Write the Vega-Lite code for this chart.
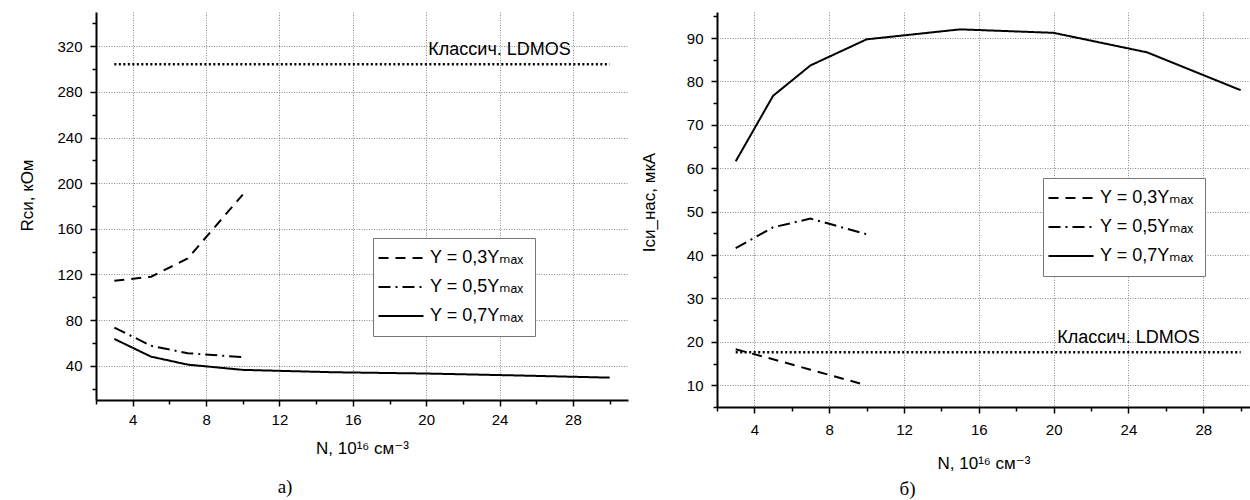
{
  "$schema": "https://vega.github.io/schema/vega-lite/v6.json",
  "padding": {"left": 18, "top": 9, "right": 0, "bottom": 0},
  "bounds": "flush",
  "spacing": 89,
  "datasets": {
    "left": [
      {"kind": "ldmos", "N": 3, "V": 304.3},
      {"kind": "ldmos", "N": 30, "V": 304.3},
      {"kind": "label", "N": 24, "V": 316.5, "label": "Классич. LDMOS"},
      {"kind": "curve", "series": "Y = 0,3Yₘₐₓ", "N": 3, "V": 114.5},
      {"kind": "curve", "series": "Y = 0,3Yₘₐₓ", "N": 5, "V": 118},
      {"kind": "curve", "series": "Y = 0,3Yₘₐₓ", "N": 7, "V": 134},
      {"kind": "curve", "series": "Y = 0,3Yₘₐₓ", "N": 10, "V": 190},
      {"kind": "curve", "series": "Y = 0,5Yₘₐₓ", "N": 3, "V": 73.5},
      {"kind": "curve", "series": "Y = 0,5Yₘₐₓ", "N": 5, "V": 57.5},
      {"kind": "curve", "series": "Y = 0,5Yₘₐₓ", "N": 7, "V": 51},
      {"kind": "curve", "series": "Y = 0,5Yₘₐₓ", "N": 10, "V": 47.5},
      {"kind": "curve", "series": "Y = 0,7Yₘₐₓ", "N": 3, "V": 63.5},
      {"kind": "curve", "series": "Y = 0,7Yₘₐₓ", "N": 5, "V": 48},
      {"kind": "curve", "series": "Y = 0,7Yₘₐₓ", "N": 7, "V": 41},
      {"kind": "curve", "series": "Y = 0,7Yₘₐₓ", "N": 10, "V": 36.4},
      {"kind": "curve", "series": "Y = 0,7Yₘₐₓ", "N": 15, "V": 34.3},
      {"kind": "curve", "series": "Y = 0,7Yₘₐₓ", "N": 20, "V": 33.2},
      {"kind": "curve", "series": "Y = 0,7Yₘₐₓ", "N": 25, "V": 31.5},
      {"kind": "curve", "series": "Y = 0,7Yₘₐₓ", "N": 30, "V": 29.6}
    ],
    "right": [
      {"kind": "ldmos", "N": 3, "V": 17.6},
      {"kind": "ldmos", "N": 30, "V": 17.6},
      {"kind": "label", "N": 24, "V": 20.9, "label": "Классич. LDMOS"},
      {"kind": "curve", "series": "Y = 0,3Yₘₐₓ", "N": 3, "V": 18.3},
      {"kind": "curve", "series": "Y = 0,3Yₘₐₓ", "N": 5, "V": 16},
      {"kind": "curve", "series": "Y = 0,3Yₘₐₓ", "N": 7, "V": 13.6},
      {"kind": "curve", "series": "Y = 0,3Yₘₐₓ", "N": 10, "V": 10},
      {"kind": "curve", "series": "Y = 0,5Yₘₐₓ", "N": 3, "V": 41.6},
      {"kind": "curve", "series": "Y = 0,5Yₘₐₓ", "N": 5, "V": 46.4},
      {"kind": "curve", "series": "Y = 0,5Yₘₐₓ", "N": 7, "V": 48.4},
      {"kind": "curve", "series": "Y = 0,5Yₘₐₓ", "N": 10, "V": 44.8},
      {"kind": "curve", "series": "Y = 0,7Yₘₐₓ", "N": 3, "V": 61.6},
      {"kind": "curve", "series": "Y = 0,7Yₘₐₓ", "N": 5, "V": 76.7},
      {"kind": "curve", "series": "Y = 0,7Yₘₐₓ", "N": 7, "V": 83.7},
      {"kind": "curve", "series": "Y = 0,7Yₘₐₓ", "N": 10, "V": 89.7},
      {"kind": "curve", "series": "Y = 0,7Yₘₐₓ", "N": 15, "V": 92},
      {"kind": "curve", "series": "Y = 0,7Yₘₐₓ", "N": 20, "V": 91.2},
      {"kind": "curve", "series": "Y = 0,7Yₘₐₓ", "N": 25, "V": 86.7},
      {"kind": "curve", "series": "Y = 0,7Yₘₐₓ", "N": 30, "V": 78}
    ]
  },
  "hconcat": [
    {
      "width": 532,
      "height": 388,
      "data": {"name": "left"},
      "title": {"text": "а)", "orient": "bottom", "anchor": "middle", "dx": -77, "offset": 22, "font": "Liberation Serif", "fontSize": 19, "fontWeight": "normal", "color": "black"},
      "encoding": {
        "x": {
          "field": "N", "type": "quantitative",
          "scale": {"domain": [2, 31], "nice": false, "zero": false},
          "axis": {
            "title": "N, 10¹⁶ см⁻³",
            "values": [2, 4, 6, 8, 10, 12, 14, 16, 18, 20, 22, 24, 26, 28, 30],
            "labelExpr": "datum.value % 4 === 0 ? datum.label : ''",
            "tickSize": {"condition": {"test": "datum.value % 4 === 0", "value": 6}, "value": 4},
            "gridOpacity": {"condition": {"test": "datum.value % 4 === 0", "value": 1}, "value": 0},
            "labelPadding": 6, "titlePadding": 13, "labelFlush": false, "labelOverlap": false
          }
        },
        "y": {
          "field": "V", "type": "quantitative",
          "scale": {"domain": [10, 350], "nice": false, "zero": false},
          "axis": {
            "title": "Rси, кОм",
            "titleY": 183,
            "values": [20, 40, 60, 80, 100, 120, 140, 160, 180, 200, 220, 240, 260, 280, 300, 320, 340],
            "labelExpr": "datum.value % 40 === 0 ? datum.label : ''",
            "tickSize": {"condition": {"test": "datum.value % 40 === 0", "value": 6}, "value": 4},
            "gridOpacity": {"condition": {"test": "datum.value % 40 === 0", "value": 1}, "value": 0},
            "labelPadding": 8, "titlePadding": 20, "labelOverlap": false
          }
        }
      },
      "layer": [
        {
          "transform": [{"filter": "datum.kind === 'ldmos'"}],
          "mark": {"type": "line", "color": "black", "strokeWidth": 2.5, "strokeDash": [2, 2.5]}
        },
        {
          "transform": [{"filter": "datum.kind === 'curve'"}],
          "mark": {"type": "line", "color": "black", "strokeWidth": 2},
          "encoding": {
            "strokeDash": {
              "field": "series", "type": "nominal",
              "scale": {"domain": ["Y = 0,3Yₘₐₓ", "Y = 0,5Yₘₐₓ", "Y = 0,7Yₘₐₓ"], "range": [[10, 7], [12, 5, 2, 5], [1, 0]]},
              "legend": {"orient": "none", "legendX": 277, "legendY": 226}
            }
          }
        },
        {
          "transform": [{"filter": "datum.kind === 'label'"}],
          "mark": {"type": "text", "font": "Liberation Sans", "fontSize": 18, "color": "black", "align": "center", "baseline": "middle"},
          "encoding": {"text": {"field": "label"}}
        }
      ]
    },
    {
      "width": 533,
      "height": 395,
      "data": {"name": "right"},
      "title": {"text": "б)", "orient": "bottom", "anchor": "middle", "dx": -76, "offset": 9, "font": "Liberation Serif", "fontSize": 19, "fontWeight": "normal", "color": "black"},
      "encoding": {
        "x": {
          "field": "N", "type": "quantitative",
          "scale": {"domain": [2, 30.5], "nice": false, "zero": false},
          "axis": {
            "title": "N, 10¹⁶ см⁻³",
            "values": [2, 4, 6, 8, 10, 12, 14, 16, 18, 20, 22, 24, 26, 28, 30],
            "labelExpr": "datum.value % 4 === 0 ? datum.label : ''",
            "tickSize": {"condition": {"test": "datum.value % 4 === 0", "value": 6}, "value": 4},
            "gridOpacity": {"condition": {"test": "datum.value % 4 === 0", "value": 1}, "value": 0},
            "labelPadding": 9, "titlePadding": 18, "labelFlush": false, "labelOverlap": false
          }
        },
        "y": {
          "field": "V", "type": "quantitative",
          "scale": {"domain": [5, 96], "nice": false, "zero": false},
          "axis": {
            "title": "Iси_нас, мкА",
            "titleY": 190,
            "values": [5, 10, 15, 20, 25, 30, 35, 40, 45, 50, 55, 60, 65, 70, 75, 80, 85, 90, 95],
            "labelExpr": "datum.value % 10 === 0 ? datum.label : ''",
            "tickSize": {"condition": {"test": "datum.value % 10 === 0", "value": 6}, "value": 4},
            "gridOpacity": {"condition": {"test": "datum.value % 10 === 0", "value": 1}, "value": 0},
            "labelPadding": 8, "titlePadding": 28, "labelOverlap": false
          }
        }
      },
      "layer": [
        {
          "transform": [{"filter": "datum.kind === 'ldmos'"}],
          "mark": {"type": "line", "color": "black", "strokeWidth": 2.5, "strokeDash": [2, 2.5]}
        },
        {
          "transform": [{"filter": "datum.kind === 'curve'"}],
          "mark": {"type": "line", "color": "black", "strokeWidth": 2},
          "encoding": {
            "strokeDash": {
              "field": "series", "type": "nominal",
              "scale": {"domain": ["Y = 0,3Yₘₐₓ", "Y = 0,5Yₘₐₓ", "Y = 0,7Yₘₐₓ"], "range": [[10, 7], [12, 5, 2, 5], [1, 0]]},
              "legend": {"orient": "none", "legendX": 326, "legendY": 166}
            }
          }
        },
        {
          "transform": [{"filter": "datum.kind === 'label'"}],
          "mark": {"type": "text", "font": "Liberation Sans", "fontSize": 18, "color": "black", "align": "center", "baseline": "middle"},
          "encoding": {"text": {"field": "label"}}
        }
      ]
    }
  ],
  "resolve": {
    "scale": {"x": "independent", "y": "independent", "strokeDash": "independent"},
    "legend": {"strokeDash": "independent"}
  },
  "config": {
    "view": {"stroke": null},
    "axis": {
      "domainColor": "black", "domainWidth": 2,
      "tickColor": "black", "tickWidth": 1.5,
      "labelColor": "black", "titleColor": "black",
      "labelFont": "Liberation Sans", "titleFont": "Liberation Sans, DejaVu Sans",
      "labelFontSize": 15, "titleFontSize": 17, "titleFontWeight": "normal",
      "gridColor": "#8c8c8c", "gridDash": [1, 1.5], "gridWidth": 1
    },
    "legend": {
      "title": null,
      "symbolType": "M-3,0H3", "symbolSize": 225, "symbolStrokeWidth": 2, "symbolStrokeColor": "black", "symbolOffset": 8,
      "labelFont": "Liberation Sans, DejaVu Sans", "labelFontSize": 18, "labelColor": "black", "labelOffset": 20,
      "strokeColor": "#777777", "fillColor": "white", "padding": 11, "rowPadding": 11
    }
  }
}
